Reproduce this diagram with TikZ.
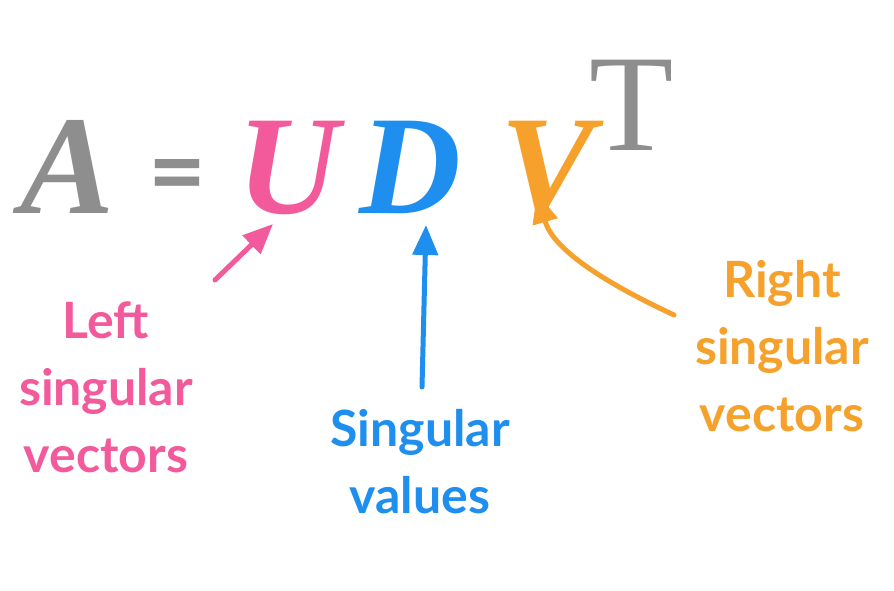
\documentclass[tikz,border=0pt]{standalone}
\usepackage{fontspec}
\setmainfont{Liberation Serif}
\newfontfamily\labelfont{Lato}
\usepackage{xcolor}
\usetikzlibrary{arrows.meta}
\usetikzlibrary{positioning}
\usetikzlibrary{math}

\definecolor{leftpink}{HTML}{F25A9C}
\definecolor{valblue}{HTML}{1E8FEF}
\definecolor{rightorange}{HTML}{F5A12B}
\definecolor{eqgray}{HTML}{8E8E8E}

\begin{document}
\begin{tikzpicture}[x=1pt,y=-1pt,
  letter/.style={anchor=base,inner sep=0pt,
    font=\fontsize{141}{141}\selectfont\bfseries\itshape},
  captiontext/.style={anchor=north,inner sep=0pt,align=center,
    font=\labelfont\bfseries\fontsize{50}{67}\selectfont},
  pointer/.style={line width=5pt,line cap=round,
    -{Triangle[length=30pt,width=25pt]}}
]

  \tikzmath{
    \base = 213; % baseline of the formula
  }

  % page and background
  \useasboundingbox[fill=white] (0,0) rectangle (894,590);

  % the formula
  \node[letter,text=eqgray]      (A) at (68,\base)  {A};
  \node[anchor=center,inner sep=0pt,text=eqgray,
        font=\labelfont\bfseries\fontsize{100}{100}\selectfont]
                                 (eq) at (177,183)  {=};
  \node[letter,text=leftpink]    (U) at (288,\base) {U};
  \node[letter,text=valblue]     (D) at (410,\base) {D};
  \node[letter,text=rightorange] (V) at (548,\base) {V};
  \node[anchor=base,inner sep=0pt,text=eqgray,
        font=\fontsize{138}{138}\selectfont]
                                 (T) at (632,150)   {T};

  % arrow ends
  \coordinate (ltail) at (215,280);
  \coordinate (ltip)  at (273,224);
  \coordinate (vtail) at (422,387);
  \coordinate (vtip)  at (426,225);
  \coordinate (rtail) at (674,315);
  \coordinate (rtip)  at (537,193);

  % captions
  \node[captiontext,text=leftpink]    (left)   at (106,302)
    {Left\\singular\\vectors};
  \node[captiontext,text=valblue]     (values) at (420,409)
    {Singular\\values};
  \node[captiontext,text=rightorange] (right)  at (782,260)
    {Right\\singular\\vectors};

  % pointers
  \draw[pointer,leftpink]    (ltail) -- (ltip);
  \draw[pointer,valblue]     (vtail) -- (vtip);
  \draw[pointer,rightorange] (rtail) .. controls (582,272) and (551,242) .. (rtip);

\end{tikzpicture}
\end{document}
